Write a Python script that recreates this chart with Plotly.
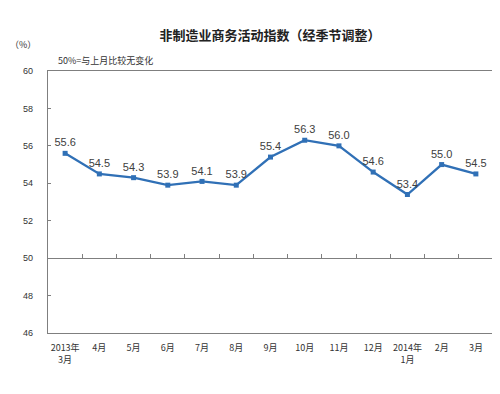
import plotly.graph_objects as go

categories = ["2013年<br>3月", "4月", "5月", "6月", "7月", "8月", "9月", "10月", "11月", "12月", "2014年<br>1月", "2月", "3月"]
values = [55.6, 54.5, 54.3, 53.9, 54.1, 53.9, 55.4, 56.3, 56.0, 54.6, 53.4, 55.0, 54.5]
y_ticks = [46, 48, 50, 52, 54, 56, 58, 60]

FONT = "Noto Sans CJK SC, Liberation Sans, sans-serif"

fig = go.Figure()
fig.add_trace(go.Scatter(
    x=categories, y=values,
    mode="lines+markers+text",
    line=dict(color="#3070B6", width=2.3),
    marker=dict(symbol="square", size=5, color="#3070B6"),
    text=[f"{v:.1f}" for v in values],
    textposition="top center",
    textfont=dict(family="Liberation Sans, Arial, sans-serif", size=11, color="#404040"),
    cliponaxis=False,
    showlegend=False,
))
# invisible trace for the 50-line axis
fig.add_trace(go.Scatter(x=categories, y=[50] * len(categories), xaxis="x2",
                         mode="lines", line=dict(width=0), hoverinfo="skip", showlegend=False))

fig.update_layout(
    template="none",
    width=500, height=394,
    margin=dict(l=40, r=15, t=63, b=69),
    paper_bgcolor="white", plot_bgcolor="white",
    font=dict(family=FONT, color="#333333"),
    title=dict(text="非制造业商务活动指数（经季节调整）", x=0.524, xanchor="center",
               y=1 - 27 / 394, yanchor="middle",
               font=dict(family=FONT, size=13, color="#222222", weight="bold")),
    xaxis=dict(type="category", range=[-0.5, 12.5], showline=True, linecolor="#7f7f7f",
               linewidth=1.2, mirror=True, ticks="", showgrid=False, automargin=False,
               tickfont=dict(family=FONT, size=9, color="#333333"), ticklabelstandoff=6),
    xaxis2=dict(type="category", range=[-0.5, 12.5], overlaying="x", anchor="free",
                position=(50 - 46) / (60 - 46), side="bottom", showline=True,
                linecolor="#7f7f7f", linewidth=1.2, ticks="inside", ticklen=4,
                tickcolor="#7f7f7f", tickson="boundaries", showticklabels=False,
                showgrid=False, automargin=False),
    yaxis=dict(range=[46, 60], tickvals=y_ticks, showline=True, linecolor="#7f7f7f",
               linewidth=1.2, mirror=True, ticks="inside", ticklen=3, tickcolor="#7f7f7f",
               showgrid=False, zeroline=False, automargin=False,
               tickfont=dict(family="Liberation Sans, sans-serif", size=9, color="#333333"),
               ticklabelstandoff=12),
    annotations=[
        dict(text="（%）", xref="paper", yref="paper", x=-40 / 445, y=1 + 26 / 262,
             xanchor="left", yanchor="middle", showarrow=False,
             font=dict(family=FONT, size=9, color="#333333")),
        dict(text="50%=与上月比较无变化", xref="paper", yref="paper", x=8 / 445, y=1 + 11 / 262,
             xanchor="left", yanchor="middle", showarrow=False,
             font=dict(family=FONT, size=9, color="#333333")),
    ],
)

fig.write_html("out.html")
